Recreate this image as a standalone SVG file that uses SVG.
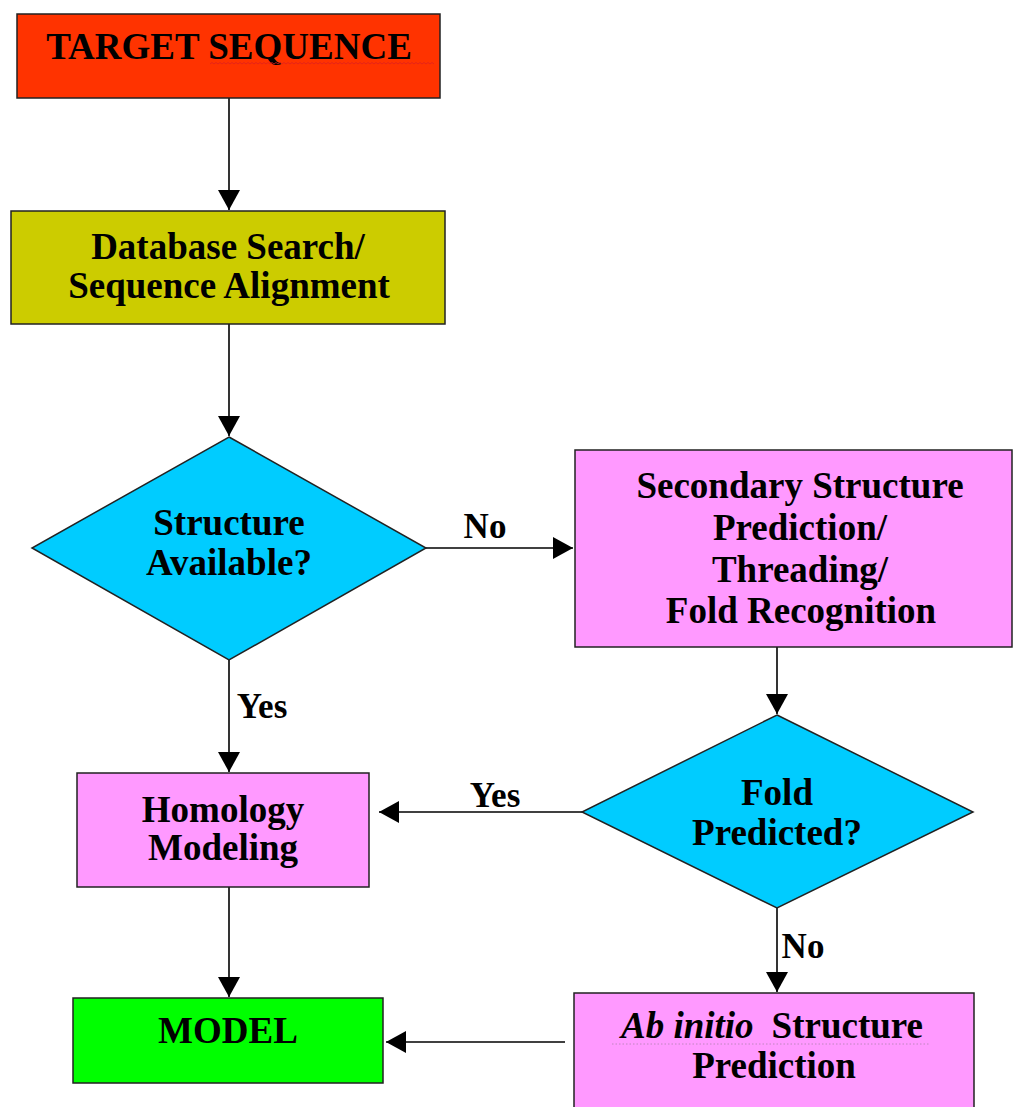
<svg xmlns="http://www.w3.org/2000/svg" width="1013" height="1107" viewBox="0 0 1013 1107">
<defs>
<style>
.box{stroke:#222;stroke-width:1.5}
.t{font-family:"Liberation Serif","Times New Roman",serif;font-weight:bold;font-size:37px;fill:#000;text-anchor:middle}
.lbl{font-family:"Liberation Serif","Times New Roman",serif;font-weight:bold;font-size:35px;fill:#000;text-anchor:middle}
.c{stroke:#000;stroke-width:1.6;fill:none}
</style>
<marker id="ah" markerUnits="userSpaceOnUse" markerWidth="22" markerHeight="24" refX="20" refY="11" orient="auto">
<path d="M0,0 L20,11 L0,22 Z" fill="#000"/>
</marker>
</defs>
<rect width="1013" height="1107" fill="#fff"/>

<g id="connectors">
<line class="c" x1="229" y1="98" x2="229" y2="210" marker-end="url(#ah)"/>
<line class="c" x1="229" y1="324" x2="229" y2="436" marker-end="url(#ah)"/>
<line class="c" x1="426" y1="548" x2="573" y2="548" marker-end="url(#ah)"/>
<line class="c" x1="229" y1="660" x2="229" y2="772" marker-end="url(#ah)"/>
<line class="c" x1="777" y1="647" x2="777" y2="714" marker-end="url(#ah)"/>
<line class="c" x1="582" y1="812" x2="379" y2="812" marker-end="url(#ah)"/>
<line class="c" x1="229" y1="887" x2="229" y2="997" marker-end="url(#ah)"/>
<line class="c" x1="777" y1="908" x2="777" y2="992" marker-end="url(#ah)"/>
<line class="c" x1="565" y1="1042" x2="386" y2="1042" marker-end="url(#ah)"/>
<text class="lbl" x="485" y="538">No</text>
<text class="lbl" x="262" y="718">Yes</text>
<text class="lbl" x="495" y="807">Yes</text>
<text class="lbl" x="803" y="958">No</text>
</g>

<g id="target">
<rect class="box" x="17" y="14" width="423" height="84" fill="#FF3300"/>
<text class="t" x="229" y="59">TARGET SEQUENCE</text>
<path d="M210,64 l2,-1.5 l2,1.5 l2,-1.5 l2,1.5 l2,-1.5 l2,1.5 l2,-1.5 l2,1.5 l2,-1.5 l2,1.5 l2,-1.5 l2,1.5 l2,-1.5 l2,1.5 l2,-1.5 l2,1.5 l2,-1.5 l2,1.5 l2,-1.5 l2,1.5 l2,-1.5 l2,1.5 l2,-1.5 l2,1.5 l2,-1.5 l2,1.5 l2,-1.5 l2,1.5 l2,-1.5 l2,1.5 l2,-1.5 l2,1.5 l2,-1.5 l2,1.5 l2,-1.5 l2,1.5 l2,-1.5 l2,1.5 l2,-1.5 l2,1.5 l2,-1.5 l2,1.5 l2,-1.5 l2,1.5 l2,-1.5 l2,1.5 l2,-1.5 l2,1.5 l2,-1.5 l2,1.5 l2,-1.5 l2,1.5 l2,-1.5 l2,1.5 l2,-1.5 l2,1.5 l2,-1.5 l2,1.5 l2,-1.5 l2,1.5 l2,-1.5 l2,1.5 l2,-1.5 l2,1.5 l2,-1.5 l2,1.5 l2,-1.5 l2,1.5 l2,-1.5 l2,1.5 l2,-1.5 l2,1.5 l2,-1.5 l2,1.5 l2,-1.5 l2,1.5 l2,-1.5 l2,1.5 l2,-1.5 l2,1.5 l2,-1.5 l2,1.5 l2,-1.5 l2,1.5 l2,-1.5 l2,1.5 l2,-1.5 l2,1.5 l2,-1.5 l2,1.5 l2,-1.5 l2,1.5 l2,-1.5 l2,1.5 l2,-1.5 l2,1.5 l2,-1.5 l2,1.5 l2,-1.5 l2,1.5 l2,-1.5 l2,1.5 l2,-1.5 l2,1.5 l2,-1.5 l2,1.5 l2,-1.5 l2,1.5 l2,-1.5 l2,1.5 l2,-1.5 l2,1.5" fill="none" stroke="#E02020" stroke-width="0.8"/>
</g>

<g id="dbsearch">
<rect class="box" x="11" y="211" width="434" height="113" fill="#CCCC00"/>
<text class="t" x="228" y="259">Database Search/</text>
<text class="t" x="229" y="298">Sequence Alignment</text>
</g>

<g id="structure-available">
<polygon class="box" points="229,437 426,548 229,660 32,548" fill="#00CCFF"/>
<text class="t" x="229" y="535">Structure</text>
<text class="t" x="229" y="575">Available?</text>
</g>

<g id="secondary">
<rect class="box" x="575" y="450" width="437" height="197" fill="#FF99FF"/>
<text class="t" x="800" y="498">Secondary Structure</text>
<text class="t" x="800" y="540">Prediction/</text>
<text class="t" x="800" y="582">Threading/</text>
<text class="t" x="801" y="623">Fold Recognition</text>
</g>

<g id="fold-predicted">
<polygon class="box" points="777,715 973,812 777,908 582,812" fill="#00CCFF"/>
<text class="t" x="777" y="805">Fold</text>
<text class="t" x="777" y="845">Predicted?</text>
</g>

<g id="homology">
<rect class="box" x="77" y="773" width="292" height="114" fill="#FF99FF"/>
<text class="t" x="223" y="822">Homology</text>
<text class="t" x="223" y="860">Modeling</text>
</g>

<g id="model">
<rect class="box" x="73" y="998" width="310" height="85" fill="#00FF00"/>
<text class="t" x="228" y="1043">MODEL</text>
</g>

<g id="abinitio">
<rect class="box" x="574" y="993" width="400" height="130" fill="#FF99FF"/>
<text class="t" x="772" y="1038"><tspan font-style="italic">Ab initio</tspan><tspan dx="18">Structure</tspan></text>
<line x1="612" y1="1044" x2="930" y2="1044" stroke="#B080B0" stroke-width="0.8" stroke-dasharray="1.5,2"/>
<text class="t" x="774" y="1078">Prediction</text>
</g>
</svg>
